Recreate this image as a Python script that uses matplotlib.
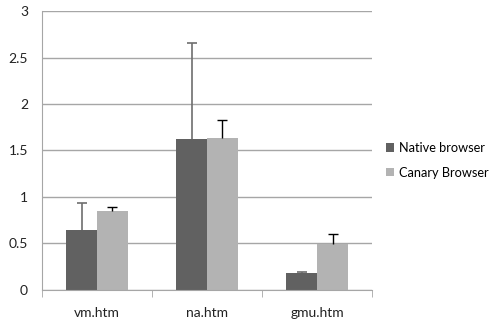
import numpy as np
import matplotlib.pyplot as plt

pages = ['vm.htm', 'na.htm', 'gmu.htm']
native = [0.65, 1.62, 0.18]
native_err = [0.29, 1.04, 0.015]
canary = [0.85, 1.63, 0.49]
canary_err = [0.04, 0.20, 0.11]

plt.rcParams['font.family'] = ['Lato', 'DejaVu Sans']

fig = plt.figure(figsize=(4.93, 3.24), dpi=100)
ax = fig.add_axes([0.085, 0.105, 0.67, 0.861])

x = np.arange(len(pages))
w = 0.28
ax.bar(x - w/2, native, w, color='#616161', label='Native browser', zorder=2)
ax.bar(x + w/2, canary, w, color='#b3b3b3', label='Canary Browser', zorder=2)

# upper-only error bars
for xs, vals, errs, c, lw in [(x - w/2, native, native_err, '#6e6e6e', 1.2),
                              (x + w/2, canary, canary_err, 'black', 1.0)]:
    tops = np.array(vals) + np.array(errs)
    ax.vlines(xs, vals, tops, colors=c, linewidth=lw, zorder=3)
    ax.scatter(xs, tops, marker='_', s=60, color=c, linewidths=lw, zorder=3)

ax.set_ylim(0, 3)
ax.set_xlim(-0.5, 2.5)
ax.set_yticks(np.arange(0, 3.01, 0.5))
ax.set_yticklabels(['0', '0.5', '1', '1.5', '2', '2.5', '3'])
ax.yaxis.grid(True, color='#a6a6a6', linewidth=1, zorder=0)
ax.set_axisbelow(True)

ax.set_xticks(x)
ax.set_xticklabels(pages)
ax.set_xticks([-0.5, 0.5, 1.5, 2.5], minor=True)
ax.tick_params(axis='x', which='major', length=0, pad=12)
ax.tick_params(axis='x', which='minor', length=5, color='#a6a6a6')
ax.tick_params(axis='y', length=0, pad=10)
ax.tick_params(labelsize=10, colors='#222222')

for s in ['top', 'right']:
    ax.spines[s].set_visible(False)
ax.spines['left'].set_color('#a6a6a6')
ax.spines['bottom'].set_color('#a6a6a6')

fig.legend(loc='center left', bbox_to_anchor=(0.783, 0.505), frameon=False,
           fontsize=9.2, handlelength=0.6, handleheight=0.6, handletextpad=0.4,
           labelspacing=1.0, borderpad=0, borderaxespad=0)

fig.savefig('out.png', dpi=100)
